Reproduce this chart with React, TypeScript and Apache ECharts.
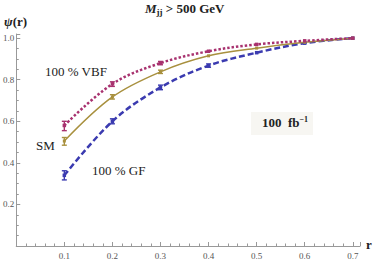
import React, { useEffect, useRef } from "react";
import * as echarts from "echarts";

const rValues = [0.1, 0.2, 0.3, 0.4, 0.5, 0.6, 0.7];
const vbfValues = [0.58, 0.78, 0.88, 0.937, 0.97, 0.987, 1.0];
const smValues = [0.505, 0.717, 0.838, 0.915, 0.952, 0.98, 1.0];
const gfValues = [0.34, 0.6, 0.763, 0.868, 0.93, 0.976, 1.0];
const vbfErr = [[0.1, 0.555, 0.6], [0.2, 0.768, 0.79], [0.3, 0.872, 0.888]];
const smErr = [[0.1, 0.485, 0.522], [0.2, 0.707, 0.728], [0.3, 0.83, 0.846]];
const gfErr = [[0.1, 0.318, 0.362], [0.2, 0.588, 0.612], [0.3, 0.752, 0.774], [0.4, 0.86, 0.876]];
const xTicks = [0.1, 0.2, 0.3, 0.4, 0.5, 0.6, 0.7];
const yTicks = [0.2, 0.4, 0.6, 0.8, 1.0];

const VBF = "#a8326f";
const SM = "#a8903e";
const GF = "#3b3bb0";
const SERIF = "Liberation Serif";

function errSeries(data: number[][], color: string) {
  return {
    type: "custom",
    data,
    z: 5,
    renderItem: (params: any, api: any) => {
      const x = api.value(0);
      const p1 = api.coord([x, api.value(1)]);
      const p2 = api.coord([x, api.value(2)]);
      const w = 2.5;
      const st = { stroke: color, lineWidth: 1.4 };
      return {
        type: "group",
        children: [
          { type: "line", shape: { x1: p1[0], y1: p1[1], x2: p2[0], y2: p2[1] }, style: st },
          { type: "line", shape: { x1: p1[0] - w, y1: p1[1], x2: p1[0] + w, y2: p1[1] }, style: st },
          { type: "line", shape: { x1: p2[0] - w, y1: p2[1], x2: p2[0] + w, y2: p2[1] }, style: st },
        ],
      };
    },
  };
}

export default function App() {
  const ref = useRef<HTMLDivElement>(null);
  useEffect(() => {
    const chart = echarts.init(ref.current!, null, { renderer: "svg" });
    const near = (v: number, arr: number[]) => arr.some((t) => Math.abs(t - v) < 1e-6);
    chart.setOption({
      animation: false,
      backgroundColor: "#ffffff",
      textStyle: { fontFamily: SERIF },
      grid: { left: 15, right: 14, top: 34, bottom: 16, containLabel: false },
      xAxis: {
        type: "value",
        min: 0,
        max: 0.715,
        interval: 0.1,
        axisLine: { show: true, onZero: false, lineStyle: { color: "#999", width: 1 } },
        axisTick: { show: true, inside: true, length: 4, lineStyle: { color: "#999" } },
        minorTick: { show: true, splitNumber: 5, length: 2.5, lineStyle: { color: "#999" } },
        splitLine: { show: false },
        axisLabel: {
          color: "#555",
          fontFamily: SERIF,
          fontSize: 9,
          margin: 5,
          formatter: (v: number) => (near(v, xTicks) ? v.toFixed(1) : ""),
        },
      },
      yAxis: {
        type: "value",
        min: 0,
        max: 1.02,
        interval: 0.2,
        axisLine: { show: true, lineStyle: { color: "#999", width: 1 } },
        axisTick: { show: true, inside: true, length: 4, lineStyle: { color: "#999" } },
        minorTick: { show: true, splitNumber: 4, length: 2.5, lineStyle: { color: "#999" } },
        splitLine: { show: false },
        axisLabel: {
          color: "#555",
          fontFamily: SERIF,
          fontSize: 9,
          margin: 2,
          formatter: (v: number) => (near(v, yTicks) ? v.toFixed(1) : ""),
        },
      },
      series: [
        {
          type: "line",
          data: rValues.map((r, i) => [r, gfValues[i]]),
          smooth: 0.35,
          symbol: "rect",
          symbolSize: 3.5,
          itemStyle: { color: GF },
          lineStyle: { color: GF, width: 2.5, type: [6, 3] },
          z: 3,
        },
        {
          type: "line",
          data: rValues.map((r, i) => [r, smValues[i]]),
          smooth: 0.35,
          symbol: "rect",
          symbolSize: 3,
          itemStyle: { color: SM },
          lineStyle: { color: SM, width: 1.5 },
          z: 3,
        },
        {
          type: "line",
          data: rValues.map((r, i) => [r, vbfValues[i]]),
          smooth: 0.35,
          symbol: "rect",
          symbolSize: 3.5,
          itemStyle: { color: VBF },
          lineStyle: { color: VBF, width: 2.5, type: [2.5, 2] },
          z: 4,
        },
        errSeries(gfErr, GF),
        errSeries(smErr, SM),
        errSeries(vbfErr, VBF),
      ],
      graphic: [
        {
          type: "text",
          x: 145,
          y: 0,
          style: {
            text: "{m|M}{s|jj}{t| > 500 GeV}",
            rich: {
              m: { fontFamily: SERIF, fontSize: 13, fontWeight: "bold", fontStyle: "italic", fill: "#222" },
              s: { fontFamily: SERIF, fontSize: 9, fontWeight: "bold", fill: "#222", verticalAlign: "bottom", padding: [7, 0, 0, 0] },
              t: { fontFamily: SERIF, fontSize: 13, fontWeight: "bold", fill: "#222" },
            },
          },
        },
        {
          type: "text",
          x: 4,
          y: 15,
          style: {
            text: "{p|ψ}{q|(r)}",
            rich: {
              p: { fontFamily: SERIF, fontSize: 13, fontWeight: "bold", fontStyle: "italic", fill: "#222" },
              q: { fontFamily: SERIF, fontSize: 13, fontWeight: "bold", fill: "#222" },
            },
          },
        },
        {
          type: "text",
          x: 366,
          y: 238,
          style: { text: "r", fontFamily: SERIF, fontSize: 13, fontWeight: "bold", fill: "#222" },
        },
        {
          type: "text",
          x: 45,
          y: 65,
          style: { text: "100 % VBF", fontFamily: SERIF, fontSize: 13, fill: "#222" },
        },
        {
          type: "text",
          x: 36,
          y: 139,
          style: { text: "SM", fontFamily: SERIF, fontSize: 13, fill: "#222" },
        },
        {
          type: "text",
          x: 92,
          y: 164,
          style: { text: "100 % GF", fontFamily: SERIF, fontSize: 13, fill: "#222" },
        },
        {
          type: "rect",
          shape: { x: 251, y: 112, width: 62, height: 23 },
          style: { fill: "#f7f6f2" },
        },
        {
          type: "text",
          x: 262,
          y: 115,
          style: {
            text: "{a|100  fb}{b|−1}",
            rich: {
              a: { fontFamily: SERIF, fontSize: 13, fontWeight: "bold", fill: "#222" },
              b: { fontFamily: SERIF, fontSize: 8, fontWeight: "bold", fill: "#222", verticalAlign: "top", padding: [0, 0, 6, 0] },
            },
          },
        },
      ],
    });
    return () => chart.dispose();
  }, []);
  return <div ref={ref} style={{ position: "fixed", left: 0, top: 0, width: 374, height: 262 }} />;
}
